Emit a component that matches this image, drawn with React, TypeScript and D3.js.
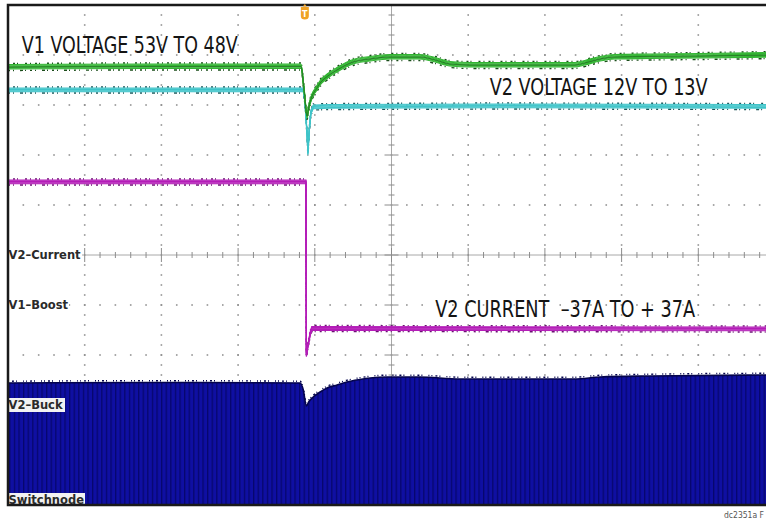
import React from 'react';
import * as d3 from 'd3';

// scope screen units: time in divisions (0..10), level in divisions (-5..5)
const v1Time = [0, 1.85, 3.82, 3.86, 3.9, 3.92, 3.96, 4.02, 4.07, 4.17, 4.29, 4.5, 4.72, 4.98, 5.37, 5.57, 5.76, 6.02, 7.39, 7.52, 7.72, 7.91, 8.37, 9.02, 10];
const v1Level = [3.76, 3.77, 3.77, 3.3, 2.78, 2.94, 3.16, 3.32, 3.44, 3.58, 3.7, 3.86, 3.92, 3.96, 3.96, 3.9, 3.82, 3.8, 3.8, 3.84, 3.92, 3.96, 3.97, 3.98, 4.0];

const v2Time = [0, 3.85, 3.87, 3.9, 3.91, 3.93, 3.95, 3.98, 4.2, 6.42, 10];
const v2Level = [3.3, 3.3, 3.1, 2.4, 2.04, 2.54, 2.86, 2.96, 2.97, 2.98, 2.97];

const currentTime = [0, 3.885, 3.89, 3.91, 3.94, 3.96, 10];
const currentLevel = [1.46, 1.46, -2.0, -1.82, -1.58, -1.47, -1.48];

const swTime = [0, 1.85, 3.81, 3.85, 3.89, 3.92, 3.98, 4.07, 4.16, 4.29, 4.42, 4.59, 4.72, 4.94, 5.37, 5.89, 7.39, 7.72, 8.37, 10];
const swLevel = [-2.56, -2.55, -2.56, -2.7, -3.02, -2.94, -2.84, -2.74, -2.66, -2.6, -2.54, -2.49, -2.46, -2.44, -2.44, -2.48, -2.48, -2.44, -2.42, -2.4];

const annotations = ['V1 VOLTAGE 53V TO 48V', 'V2 VOLTAGE 12V TO 13V', 'V2 CURRENT  \u201337A TO + 37A'];
const channelLabels = ['V2\u2013Current', 'V1\u2013Boost', 'V2\u2013Buck', 'Switchnode'];
const channelLevels = [0, -1, -3, -4.9];
const triggerTime = 3.87;
const figureId = 'dc2351a F';

const W = 766;
const H = 522;

const zip = (t: number[], v: number[]) => t.map((d, i) => [d, v[i]] as [number, number]);

const Trace = ({ d, main, dark, half }: { d: string; main: string; dark: string; half: number }) => {
  const offs = d3.range(-half, half + 0.01, 0.75);
  return (
    <g fill="none">
      {[-(half + 1), half + 1].map((o, i) => (
        <path key={'n' + i} d={d} transform={`translate(0,${o})`} stroke={dark} strokeWidth={1.4}
          strokeDasharray={i ? '2 3 1 6 3 2 1 4' : '1 4 2 2 1 7 2 3'} />
      ))}
      {offs.map(o => (
        <path key={o} d={d} transform={`translate(0,${o})`} stroke={main} strokeWidth={1.1} />
      ))}
    </g>
  );
};

export default function App() {
  const x = d3.scaleLinear().domain([0, 10]).range([8, 775]);
  const y = d3.scaleLinear().domain([-5, 5]).range([505, 5]);

  const line = d3.line<[number, number]>().x(p => x(p[0])).y(p => y(p[1]));
  const smooth = d3.line<[number, number]>().x(p => x(p[0])).y(p => y(p[1])).curve(d3.curveMonotoneX);
  const area = d3.area<[number, number]>().x(p => x(p[0])).y0(y(-5)).y1(p => y(p[1])).curve(d3.curveMonotoneX);

  const v1Path = smooth(zip(v1Time, v1Level)) || '';
  const v2Path = line(zip(v2Time, v2Level)) || '';
  const iPath = line(zip(currentTime, currentLevel)) || '';
  const swData = zip(swTime, swLevel);
  const swEdge = smooth(swData) || '';

  const majorX = d3.range(1, 10);
  const majorY = d3.range(-4, 5).filter(d => d !== 0);
  const minorX = d3.range(0, 51).map(d => d / 5);
  const minorY = d3.range(-25, 26).map(d => d / 5);

  const labelW = [74, 61, 57, 77];
  const trigX = x(triggerTime);

  return (
    <svg width={W} height={H} style={{ position: 'absolute', left: 0, top: 0, background: '#fff' }}
      fontFamily="'Liberation Sans Narrow', 'DejaVu Sans Condensed', 'Liberation Sans', sans-serif">
      <defs>
        <clipPath id="screen">
          <rect x={8} y={5} width={767} height={500} />
        </clipPath>
        <pattern id="stripes" width={4.6} height={10} patternUnits="userSpaceOnUse">
          <rect width={4.6} height={10} fill="#0f0fa2" />
          <rect width={1.3} height={10} fill="#07076e" />
        </pattern>
      </defs>

      <g clipPath="url(#screen)">
        {/* dotted graticule */}
        {majorX.filter(d => d !== 5).map(d => (
          <line key={'vx' + d} x1={x(d)} x2={x(d)} y1={y(5)} y2={y(-5)} stroke="#8c8c8c" strokeWidth={1.6}
            strokeDasharray="1.6 8.4" strokeDashoffset={0.8} />
        ))}
        {majorY.map(d => (
          <line key={'hy' + d} x1={x(0)} x2={x(10)} y1={y(d)} y2={y(d)} stroke="#8c8c8c" strokeWidth={1.6}
            strokeDasharray={`1.6 ${(x(1) - x(0)) / 5 - 1.6}`} strokeDashoffset={0.8} />
        ))}

        {/* center axes with ticks */}
        <line x1={x(0)} x2={x(10)} y1={y(0)} y2={y(0)} stroke="#a8a8a8" strokeWidth={1} />
        <line x1={x(5)} x2={x(5)} y1={y(5)} y2={y(-5)} stroke="#a8a8a8" strokeWidth={1} />
        {minorX.map(d => {
          const big = Math.abs(d - Math.round(d)) < 1e-6;
          return <line key={'tx' + d} x1={x(d)} x2={x(d)} y1={y(0) - (big ? 7 : 3)} y2={y(0) + (big ? 7 : 3)} stroke="#8c8c8c" strokeWidth={1} />;
        })}
        {minorY.map(d => {
          const big = Math.abs(d - Math.round(d)) < 1e-6;
          return <line key={'ty' + d} x1={x(5) - (big ? 7 : 3)} x2={x(5) + (big ? 7 : 3)} y1={y(d)} y2={y(d)} stroke="#8c8c8c" strokeWidth={1} />;
        })}

        {/* switch node: filled envelope */}
        <path d={area(swData) || ''} fill="url(#stripes)" />
        <path d={swEdge} fill="none" stroke="#04044e" strokeWidth={1.6} />
        <path d={swEdge} transform="translate(0,-1.8)" fill="none" stroke="#04044e" strokeWidth={1.4}
          strokeDasharray="1 3 2 2 1 6 1 2" />

        {/* voltage and current traces */}
        <Trace d={iPath} main="#b41db8" dark="#6b1372" half={2} />
        <Trace d={v2Path} main="#3fc4c9" dark="#1c5558" half={2} />
        <Trace d={v1Path} main="#33b533" dark="#1a4d1a" half={2.5} />
        <path d={v1Path} fill="none" stroke="#1f5f1f" strokeWidth={0.9} opacity={0.75} />

        {/* channel markers */}
        {channelLabels.map((t, i) => (
          <g key={t} transform={`translate(${x(0)},${y(channelLevels[i])})`}>
            <rect x={0} y={-7} width={labelW[i]} height={14} fill={i > 1 ? '#f2f2f2' : '#fff'} />
            <text x={0.5} y={4.3} fontFamily="'DejaVu Sans', sans-serif" fontSize={11.5} fontWeight="bold" fill="#2a2a2a">{t}</text>
          </g>
        ))}
      </g>

      {/* annotations */}
      <text x={x(0.18)} y={y(4.04)} fontSize={23.5} fill="#141414" textLength={216} lengthAdjust="spacingAndGlyphs">{annotations[0]}</text>
      <text x={x(6.28)} y={y(3.2)} fontSize={23.5} fill="#141414" textLength={218} lengthAdjust="spacingAndGlyphs">{annotations[1]}</text>
      <text x={x(5.57)} y={y(-1.24)} fontSize={23.5} fill="#141414" textLength={260} lengthAdjust="spacingAndGlyphs"
        style={{ whiteSpace: 'pre' }}>{annotations[2]}</text>

      {/* screen frame */}
      <rect x={8} y={5} width={767} height={500} fill="none" stroke="#1a1a1a" strokeWidth={2.5} />

      {/* trigger marker */}
      <g transform={`translate(${trigX},0)`}>
        <path d="M-4,7 L4,7 L4,16 Q4,19.5 0,19.5 Q-4,19.5 -4,16 Z" fill="#f0a224" />
        <path d="M-2,6.5 L2,6.5 L0,4 Z" fill="#f0a224" />
        <text x={0} y={17} textAnchor="middle" fontFamily="'DejaVu Sans', sans-serif" fontSize={8} fontWeight="bold" fill="#fff">T</text>
      </g>

      <text x={764} y={518} textAnchor="end" fontSize={8.5} fill="#555">{figureId}</text>
    </svg>
  );
}
